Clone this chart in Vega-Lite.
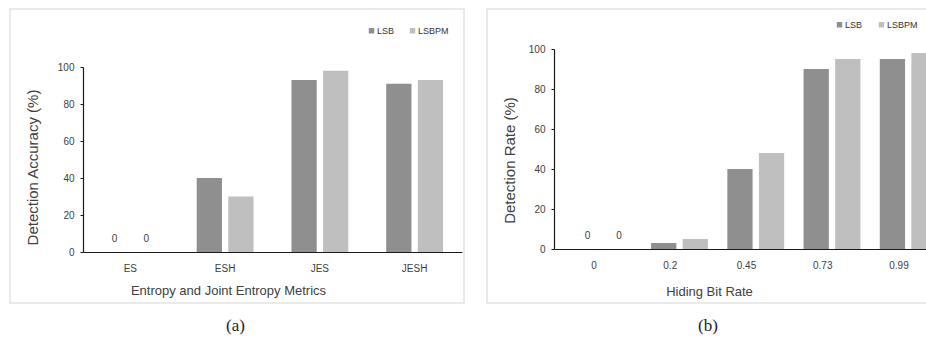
{
  "$schema": "https://vega.github.io/schema/vega-lite/v6.json",
  "padding": {"left": 9, "top": 8, "right": -12, "bottom": 5},
  "background": "#ffffff",
  "config": {
    "view": {"stroke": "#e3e3e3", "strokeWidth": 1.5},
    "font": "Liberation Sans, sans-serif",
    "axis": {
      "grid": false,
      "labelFont": "Liberation Sans, sans-serif",
      "titleFont": "Liberation Sans, sans-serif",
      "labelFontSize": 10,
      "titleFontSize": 13,
      "titleFontWeight": "normal",
      "labelColor": "#404040",
      "titleColor": "#404040",
      "domainColor": "#1a1a1a",
      "tickColor": "#1a1a1a",
      "domainWidth": 1.2
    },
    "legend": {
      "labelFont": "Liberation Sans, sans-serif",
      "labelFontSize": 9,
      "labelColor": "#333333"
    },
    "title": {
      "font": "Liberation Serif, DejaVu Serif, serif",
      "fontSize": 17,
      "fontWeight": "normal",
      "color": "#222222"
    }
  },
  "datasets": {
    "a": [
      {"metric": "ES", "method": "LSB", "value": 0},
      {"metric": "ES", "method": "LSBPM", "value": 0},
      {"metric": "ESH", "method": "LSB", "value": 40},
      {"metric": "ESH", "method": "LSBPM", "value": 30},
      {"metric": "JES", "method": "LSB", "value": 93},
      {"metric": "JES", "method": "LSBPM", "value": 98},
      {"metric": "JESH", "method": "LSB", "value": 91},
      {"metric": "JESH", "method": "LSBPM", "value": 93}
    ],
    "b": [
      {"rate": "0", "method": "LSB", "value": 0},
      {"rate": "0", "method": "LSBPM", "value": 0},
      {"rate": "0.2", "method": "LSB", "value": 3},
      {"rate": "0.2", "method": "LSBPM", "value": 5},
      {"rate": "0.45", "method": "LSB", "value": 40},
      {"rate": "0.45", "method": "LSBPM", "value": 48},
      {"rate": "0.73", "method": "LSB", "value": 90},
      {"rate": "0.73", "method": "LSBPM", "value": 95},
      {"rate": "0.99", "method": "LSB", "value": 95},
      {"rate": "0.99", "method": "LSBPM", "value": 98}
    ]
  },
  "resolve": {"legend": {"color": "independent"}, "scale": {"color": "independent"}},
  "spacing": 21,
  "hconcat": [
    {
      "width": 454,
      "height": 294,
      "data": {"name": "a"},
      "title": {"text": "(a)", "orient": "bottom", "anchor": "start", "baseline": "middle", "offset": 23, "dx": 216},
      "encoding": {
        "x": {
          "field": "metric", "type": "nominal", "sort": ["ES", "ESH", "JES", "JESH"],
          "scale": {"range": [73, 452], "paddingInner": 0, "paddingOuter": 0},
          "axis": {"offset": -51, "ticks": false, "labelPadding": 11, "labelAngle": 0,
                   "title": "Entropy and Joint Entropy Metrics", "titleX": 218, "titleY": 38, "titleBaseline": "middle", "titleAlign": "center"}
        },
        "xOffset": {"field": "method", "type": "nominal", "sort": ["LSB", "LSBPM"], "scale": {"paddingInner": 0.2, "paddingOuter": 0.6}},
        "y": {
          "field": "value", "type": "quantitative",
          "scale": {"domain": [0, 100], "range": [243, 58]},
          "axis": {"offset": -73, "values": [0, 20, 40, 60, 80, 100], "tickSize": 3, "labelPadding": 6,
                   "title": "Detection Accuracy (%)", "titleFontSize": 15, "titleX": -51, "titleY": 158, "titleBaseline": "middle", "titleAngle": -90, "titleAlign": "center"}
        },
        "color": {
          "field": "method", "type": "nominal",
          "scale": {"domain": ["LSB", "LSBPM"], "range": ["#8f8f8f", "#bfbfbf"]},
          "legend": {"orient": "none", "legendX": 357, "legendY": 17, "direction": "horizontal", "title": null,
                     "symbolType": "square", "symbolSize": 30, "symbolStrokeWidth": 0, "labelOffset": 1, "columnPadding": 13}
        }
      },
      "layer": [
        {"mark": {"type": "bar"}},
        {
          "transform": [{"filter": "datum.value == 0"}],
          "mark": {"type": "text", "dy": -13, "baseline": "middle", "fontSize": 10, "font": "Liberation Sans, sans-serif"},
          "encoding": {"text": {"field": "value", "type": "quantitative"}, "color": {"value": "#404040"}}
        }
      ]
    },
    {
      "width": 450,
      "height": 294,
      "data": {"name": "b"},
      "title": {"text": "(b)", "orient": "bottom", "anchor": "start", "baseline": "middle", "offset": 23, "dx": 211},
      "encoding": {
        "x": {
          "field": "rate", "type": "nominal", "sort": ["0", "0.2", "0.45", "0.73", "0.99"],
          "scale": {"range": [67, 452], "paddingInner": 0, "paddingOuter": 0.025},
          "axis": {"offset": -54, "ticks": false, "labelPadding": 11, "labelAngle": 0,
                   "title": "Hiding Bit Rate", "titleX": 222, "titleY": 42, "titleBaseline": "middle", "titleAlign": "center"}
        },
        "xOffset": {"field": "method", "type": "nominal", "sort": ["LSB", "LSBPM"], "scale": {"paddingInner": 0.2, "paddingOuter": 0.6}},
        "y": {
          "field": "value", "type": "quantitative",
          "scale": {"domain": [0, 100], "range": [240, 40]},
          "axis": {"offset": -67, "values": [0, 20, 40, 60, 80, 100], "tickSize": 3, "labelPadding": 6,
                   "title": "Detection Rate (%)", "titleFontSize": 15, "titleX": -45, "titleY": 151, "titleBaseline": "middle", "titleAngle": -90, "titleAlign": "center"}
        },
        "color": {
          "field": "method", "type": "nominal",
          "scale": {"domain": ["LSB", "LSBPM"], "range": ["#8f8f8f", "#bfbfbf"]},
          "legend": {"orient": "none", "legendX": 348, "legendY": 11, "direction": "horizontal", "title": null,
                     "symbolType": "square", "symbolSize": 30, "symbolStrokeWidth": 0, "labelOffset": 1, "columnPadding": 14}
        }
      },
      "layer": [
        {"mark": {"type": "bar"}},
        {
          "transform": [{"filter": "datum.value == 0"}],
          "mark": {"type": "text", "dy": -13, "baseline": "middle", "fontSize": 10, "font": "Liberation Sans, sans-serif"},
          "encoding": {"text": {"field": "value", "type": "quantitative"}, "color": {"value": "#404040"}}
        }
      ]
    }
  ]
}
